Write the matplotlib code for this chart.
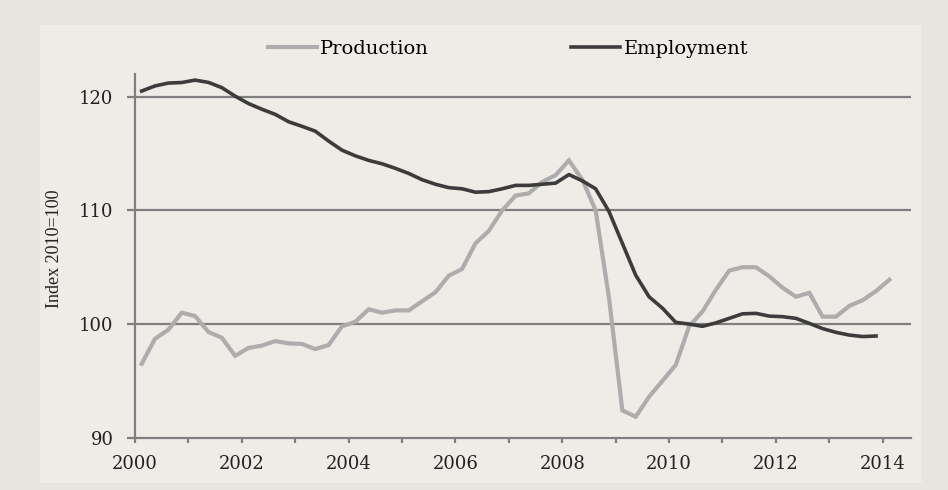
import numpy as np
import matplotlib.pyplot as plt
from matplotlib.patches import Rectangle
from matplotlib.transforms import ScaledTranslation

# quarterly index values, 2010=100 (Q1 2000 onwards)
production = [96.5, 98.7, 99.5, 101.0, 100.7, 99.3, 98.8, 97.2,
              97.9, 98.1, 98.5, 98.3, 98.25, 97.8, 98.15, 99.8,
              100.2, 101.3, 101.0, 101.2, 101.2, 102.0, 102.8, 104.25,
              104.85, 107.1, 108.2, 110.0, 111.3, 111.5, 112.5, 113.1,
              114.4, 112.7, 110.0, 102.3, 92.4, 91.85, 93.6, 95.0,
              96.4, 99.8, 101.1, 103.0, 104.7, 105.0, 105.0, 104.2,
              103.2, 102.4, 102.75, 100.65, 100.65, 101.6, 102.1, 102.9,
              103.9]
employment = [120.5, 120.95, 121.2, 121.25, 121.46, 121.26, 120.8, 120.05,
              119.4, 118.9, 118.45, 117.8, 117.4, 116.97, 116.1, 115.3,
              114.8, 114.4, 114.1, 113.7, 113.25, 112.7, 112.3, 112.0,
              111.9, 111.6, 111.65, 111.9, 112.2, 112.2, 112.3, 112.4,
              113.15, 112.6, 111.9, 109.9, 107.1, 104.3, 102.4, 101.4,
              100.15, 100.0, 99.8, 100.1, 100.5, 100.9, 100.94, 100.7,
              100.65, 100.5, 100.06, 99.6, 99.27, 99.03, 98.9, 98.95]
start_year = 2000
year_labels = [2000, 2002, 2004, 2006, 2008, 2010, 2012, 2014]
y_ticks = [90, 100, 110, 120]

x_prod = start_year + 0.125 + 0.25 * np.arange(len(production))
x_emp = start_year + 0.125 + 0.25 * np.arange(len(employment))

outer = '#e8e5e1'
inner = '#efece8'
grid_c = '#7f7f7f'

fig = plt.figure(figsize=(9.48, 4.9), dpi=100, facecolor=outer)
fig.patches.append(Rectangle((0.0422, 0.0143), 0.929, 0.9347, transform=fig.transFigure,
                             facecolor=inner, edgecolor='none', zorder=-10))

ax = fig.add_axes([0.1424, 0.1067, 0.8186, 0.7423])
ax.set_facecolor(inner)

ax.plot(x_prod, production, color='#adadad', lw=3.0, label='Production',
        solid_joinstyle='miter', zorder=3)
ax.plot(x_emp, employment, color='#3c3c3c', lw=2.6, label='Employment',
        solid_joinstyle='round', zorder=4)

ax.set_xlim(2000, 2014.53)
ax.set_ylim(90, 122)
ax.set_yticks(y_ticks)
ax.set_xticks(range(2000, 2015), minor=True)
ax.set_xticks(year_labels)
ax.set_xticklabels([str(y) for y in year_labels], family='DejaVu Serif', fontsize=13,
                   color='#222222')
ax.set_yticklabels([str(v) for v in y_ticks], family='DejaVu Serif', fontsize=13,
                   color='#222222')
for lab in ax.get_xticklabels():
    lab.set_transform(lab.get_transform() + ScaledTranslation(0.06, 0, fig.dpi_scale_trans))

for v in y_ticks[1:]:
    ax.axhline(v, color=grid_c, lw=1.6, zorder=1)

for s in ['top', 'right']:
    ax.spines[s].set_visible(False)
for s in ['left', 'bottom']:
    ax.spines[s].set_color(grid_c)
    ax.spines[s].set_linewidth(1.6)

ax.tick_params(axis='x', which='both', direction='out', length=3.5, width=1.6,
               color=grid_c, pad=9)
ax.tick_params(axis='y', direction='out', length=5.5, width=1.6, color=grid_c, pad=10)

ax.set_ylabel('Index 2010=100', family='Liberation Serif', fontsize=13, color='#222222')
ax.yaxis.set_label_coords(-0.093, 0.52)

fig.legend(loc='center', bbox_to_anchor=(0.536, 0.9), ncol=2, frameon=False,
           handlelength=2.5, handletextpad=0.2, columnspacing=7.3,
           prop={'family': 'DejaVu Serif', 'size': 14})

fig.savefig('out.png', dpi=100, facecolor=outer)
